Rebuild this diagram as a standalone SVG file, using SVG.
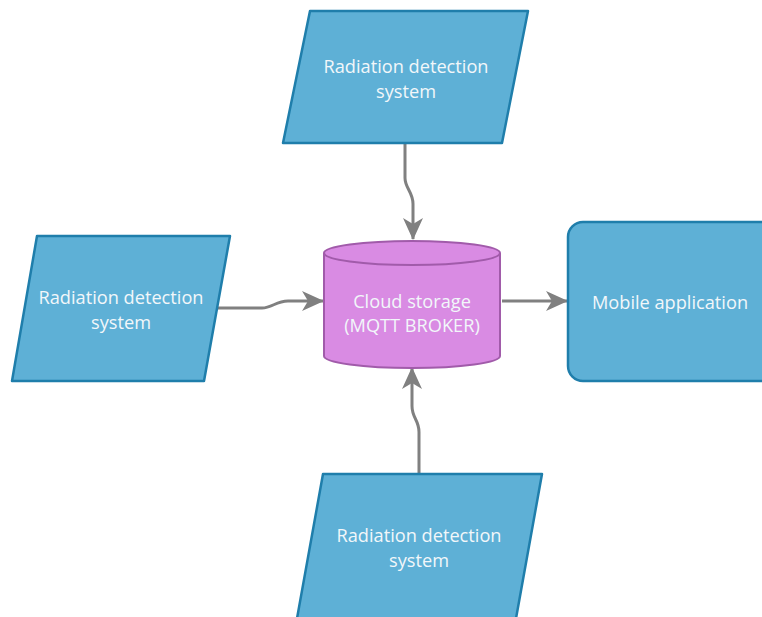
<svg xmlns="http://www.w3.org/2000/svg" width="762" height="617" viewBox="0 0 762 617">
<defs>
<style>
.io{fill:#5EB0D6;stroke:#1F7EAB;stroke-width:2.5;stroke-linejoin:round}
.db{fill:#D98BE3;stroke:#A15BAA;stroke-width:2}
.t{font-family:"Open Sans","Noto Sans",sans-serif;font-size:18.2px;fill:#F2F7FA;text-anchor:middle}
.c{fill:none;stroke:#808080;stroke-width:3}
</style>
<marker id="ah" viewBox="0 0 22 22" refX="21" refY="11" markerWidth="22" markerHeight="22" markerUnits="userSpaceOnUse" orient="auto">
<path d="M0,1 L22,11 L0,21 L6,11 Z" fill="#808080"/>
</marker>
</defs>
<rect width="762" height="617" fill="#FFFFFF"/>
<g id="connectors">
<path class="c" d="M405,144 L405,178 C405,188 413,192 413,204 L413,239" marker-end="url(#ah)"/>
<path class="c" d="M216,308 L262,308 C272,308 276,301 288,301 L323,301" marker-end="url(#ah)"/>
<path class="c" d="M502,301 L567,301" marker-end="url(#ah)"/>
<path class="c" d="M419,473 L419,432 C419,420 412,418 412,406 L412,368" marker-end="url(#ah)"/>
</g>
<g id="top">
<polygon class="io" points="310,11 528,11 502,143 283,143"/>
<text class="t" x="406" y="73">Radiation detection</text>
<text class="t" x="406" y="98">system</text>
</g>
<g id="left">
<polygon class="io" points="37,236 230,236 204,381 12,381"/>
<text class="t" x="121" y="304">Radiation detection</text>
<text class="t" x="121" y="329">system</text>
</g>
<g id="cloud">
<path class="db" d="M324,253 L324,356 A88,12 0 0 0 500,356 L500,253 A88,12 0 0 0 324,253 Z"/>
<path class="db" fill="none" d="M324,253 A88,12 0 0 0 500,253"/>
<text class="t" x="412" y="308">Cloud storage</text>
<text class="t" x="412" y="332">(MQTT BROKER)</text>
</g>
<g id="mobile">
<rect class="io" x="568" y="222" width="210" height="159" rx="15"/>
<text class="t" x="670" y="309">Mobile application</text>
</g>
<g id="bottom">
<polygon class="io" points="323,474 542,474 515,624 296,624"/>
<text class="t" x="419" y="542">Radiation detection</text>
<text class="t" x="419" y="567">system</text>
</g>
</svg>
